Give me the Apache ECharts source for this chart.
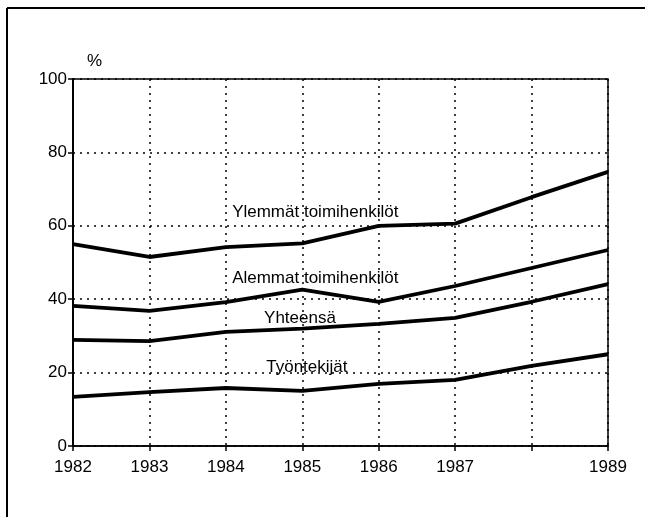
<!DOCTYPE html>
<html>
<head>
<meta charset="utf-8">
<script src="https://cdn.jsdelivr.net/npm/echarts@6/dist/echarts.min.js"></script>
<style>
  html, body { margin: 0; padding: 0; background: #fff; }
  #main { width: 645px; height: 517px; }
</style>
</head>
<body>
<div id="main"></div>
<script>
// vuodet ja sarjat
const years = [1982, 1983, 1984, 1985, 1986, 1987, 1988, 1989];
const ylemmat = [55.0, 51.5, 54.2, 55.2, 60.0, 60.6, 67.8, 74.7];
const alemmat = [38.2, 36.8, 39.2, 42.6, 39.3, 43.6, 48.5, 53.4];
const yhteensa = [28.9, 28.6, 31.1, 32.0, 33.3, 34.9, 39.3, 44.1];
const tyontekijat = [13.4, 14.7, 15.8, 15.0, 16.9, 18.0, 21.8, 25.0];
const yTicks = [0, 20, 40, 60, 80, 100];
const hiddenYearLabel = 1988;

// sarjojen nimet ja niiden sijainti kuvassa (data-koordinaatteina)
const names = ['Ylemmät toimihenkilöt', 'Alemmat toimihenkilöt', 'Yhteensä', 'Työntekijät'];
const labelAt = [[1985.17, 63.6], [1985.17, 45.8], [1984.97, 34.8], [1985.06, 21.4]];

const font = 'Liberation Sans, Arial, Helvetica, sans-serif';
const chart = echarts.init(document.getElementById('main'));

function makeSeries(name, vals, pos) {
  return {
    name: name,
    type: 'line',
    data: years.map((y, i) => [y, vals[i]]),
    showSymbol: false,
    symbol: 'none',
    lineStyle: { color: '#000', width: 3.8 },
    z: 5,
    markPoint: {
      symbol: 'rect',
      symbolSize: 0,
      data: [{ coord: pos, value: name }],
      label: {
        show: true,
        formatter: name,
        color: '#000',
        fontSize: 17,
        fontFamily: font,
        position: 'inside'
      }
    }
  };
}

chart.setOption({
  backgroundColor: '#fff',
  animation: false,
  grid: {
    left: 73,
    right: 37,
    top: 79,
    bottom: 71,
    show: true,
    borderColor: '#000',
    borderWidth: 1.5
  },
  xAxis: {
    type: 'value',
    min: 1982,
    max: 1989,
    interval: 1,
    axisLine: { show: true, lineStyle: { color: '#000', width: 1.5 } },
    axisTick: { show: true, length: 5, lineStyle: { color: '#000', width: 1.5 } },
    axisLabel: {
      color: '#000',
      fontSize: 17,
      fontFamily: font,
      margin: 13,
      formatter: v => (v === hiddenYearLabel ? '' : String(v))
    },
    splitLine: { show: true, lineStyle: { color: '#000', type: [2, 5], width: 1.5 } }
  },
  yAxis: {
    type: 'value',
    min: yTicks[0],
    max: yTicks[yTicks.length - 1],
    interval: 20,
    name: '%',
    nameLocation: 'end',
    nameGap: 9,
    nameTextStyle: { color: '#000', fontSize: 17, fontFamily: font, align: 'left', padding: [0, 0, 0, 14] },
    axisLine: { show: true, lineStyle: { color: '#000', width: 2 } },
    axisTick: { show: true, length: 5, lineStyle: { color: '#000', width: 1.5 } },
    axisLabel: { color: '#000', fontSize: 17, fontFamily: font, margin: 6 },
    splitLine: { show: true, lineStyle: { color: '#000', type: [2, 5], width: 1.5 } }
  },
  graphic: [
    { type: 'line', shape: { x1: 7, y1: 8, x2: 7, y2: 517 }, style: { stroke: '#000', lineWidth: 2 } },
    { type: 'line', shape: { x1: 7, y1: 8, x2: 645, y2: 8 }, style: { stroke: '#000', lineWidth: 2 } }
  ],
  series: [
    makeSeries(names[0], ylemmat, labelAt[0]),
    makeSeries(names[1], alemmat, labelAt[1]),
    makeSeries(names[2], yhteensa, labelAt[2]),
    makeSeries(names[3], tyontekijat, labelAt[3])
  ]
});
</script>
</body>
</html>
